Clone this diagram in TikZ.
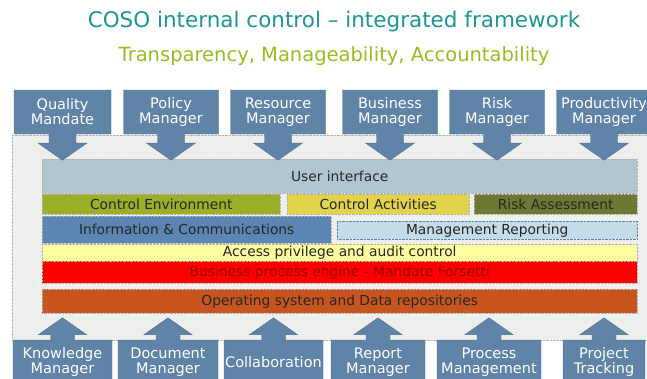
\documentclass[tikz,border=0pt]{standalone}
\usepackage{fontspec}
\setmainfont{DejaVu Sans}
\usetikzlibrary{shapes.arrows,positioning}

\definecolor{boxblue}{RGB}{96,131,168}
\definecolor{panelgray}{RGB}{238,238,236}
\definecolor{titleteal}{RGB}{28,150,150}
\definecolor{subgreen}{RGB}{150,190,30}
\definecolor{uigray}{RGB}{178,198,207}
\definecolor{envgreen}{RGB}{155,175,40}
\definecolor{actyellow}{RGB}{226,212,74}
\definecolor{riskolive}{RGB}{110,120,50}
\definecolor{infoblue}{RGB}{91,134,180}
\definecolor{reportblue}{RGB}{196,220,232}
\definecolor{accessyellow}{RGB}{255,255,160}
\definecolor{enginered}{RGB}{255,0,0}
\definecolor{enginetext}{RGB}{150,0,0}
\definecolor{osorange}{RGB}{200,85,30}

\tikzset{
  topbox/.style={arrow box, fill=boxblue, draw=boxblue!85!black, text=white, align=center,
    minimum width=95pt, minimum height=44pt, inner sep=0pt,
    arrow box arrows={south:26pt}, arrow box shaft width=27pt,
    arrow box head extend=11pt, arrow box head indent=0pt, arrow box tip angle=110,
    font=\fontsize{14.5}{15}\selectfont},
  bottombox/.style={topbox, arrow box arrows={north:22pt}, arrow box shaft width=24pt,
    arrow box head extend=12pt},
  layer/.style={rectangle, anchor=north west, draw=gray!60, densely dotted, inner sep=0pt,
    text=black!85, font=\fontsize{13.8}{15}\selectfont}
}

\begin{document}
\begin{tikzpicture}[x=1pt, y=-1pt]
\useasboundingbox[fill=white] (0,0) rectangle (647,378);

% Titel
\node[font=\fontsize{21.5}{24}\selectfont, text=titleteal] (title) at (334,22)
{COSO internal control -- integrated framework};
\node[font=\fontsize{19.5}{22}\selectfont, text=subgreen, below=7pt of title] (subtitle)
{Transparency, Manageability, Accountability};

% Rahmen
\node[rectangle, anchor=north west, fill=panelgray, draw=gray!60, densely dotted,
  minimum width=650pt, minimum height=205pt] (panel) at (12,135) {};

% Schichten
\node[layer, fill=uigray, minimum width=595pt, minimum height=34pt] (ui) at (42,159) {User interface};
\node[layer, fill=envgreen, minimum width=238pt, minimum height=20pt] (env) at (42,194) {Control Environment};
\node[layer, fill=actyellow, minimum width=182pt, minimum height=20pt] (act) at (287,194) {Control Activities};
\node[layer, fill=riskolive, minimum width=163pt, minimum height=20pt] (risk) at (474,194) {Risk Assessment};
\node[layer, fill=infoblue, minimum width=289pt, minimum height=27pt] (info) at (42,216) {Information \& Communications};
\node[layer, fill=reportblue, draw=infoblue, minimum width=300pt, minimum height=18pt] (report) at (337,221) {Management Reporting};
\node[layer, fill=accessyellow, minimum width=595pt, minimum height=17pt] (access) at (42,244) {Access privilege and audit control};
\node[layer, fill=enginered, text=enginetext, minimum width=595pt, minimum height=22pt] (engine) at (42,261)
{Business process engine - Mandate Forsetti};
\node[layer, fill=osorange, minimum width=595pt, minimum height=24pt] (os) at (42,289) {Operating system and Data repositories};

% Eingaben oben
\node[topbox, minimum width=97pt] (quality) at (62.5,112) {Quality\\Mandate};
\node[topbox] (policy) at (171,112) {Policy\\Manager};
\node[topbox] (resource) at (278,112) {Resource\\Manager};
\node[topbox] (business) at (390,112) {Business\\Manager};
\node[topbox] (riskmgr) at (497,112) {Risk\\Manager};
\node[topbox] (productivity) at (604,112) {Productivity\\Manager};

% Eingaben unten
\node[bottombox, minimum width=99pt] (knowledge) at (62.5,362) {Knowledge\\Manager};
\node[bottombox, minimum width=100pt] (document) at (168,362) {Document\\Manager};
\node[bottombox, minimum width=99pt] (collab) at (273.5,362) {Collaboration};
\node[bottombox, minimum width=94pt] (reportmgr) at (378,362) {Report\\Manager};
\node[bottombox, minimum width=104pt] (process) at (489,362) {Process\\Management};
\node[bottombox, minimum width=82pt] (project) at (604,362) {Project\\Tracking};
\end{tikzpicture}
\end{document}
